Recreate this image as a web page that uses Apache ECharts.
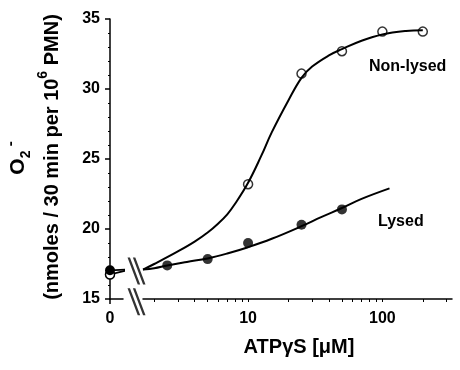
<!DOCTYPE html>
<html>
<head>
<meta charset="utf-8">
<script src="https://cdn.jsdelivr.net/npm/echarts@6/dist/echarts.min.js"></script>
<style>
  html, body { margin: 0; padding: 0; background: #fff; }
  #chart { width: 460px; height: 370px; }
</style>
</head>
<body>
<div id="chart"></div>
<script>
// values
const zeroLysed = 17.05;
const zeroNonLysed = 16.75;

const lysedX = [2.5, 5, 10, 25, 50];
const lysedY = [17.4, 17.85, 19.0, 20.3, 21.4];
const nonLysedX = [10, 25, 50, 100, 200];
const nonLysedY = [23.2, 31.1, 32.7, 34.1, 34.1];

// fitted curves as traced on the figure
const lysedCurveX = [1.65, 2, 2.5, 3.5, 5, 7, 10, 15, 25, 35, 50, 70, 113];
const lysedCurveY = [17.1, 17.2, 17.4, 17.65, 17.9, 18.25, 18.7, 19.3, 20.2, 20.85, 21.5, 22.15, 22.9];
const nonLysedCurveX = [1.65, 2, 3, 4, 5, 6, 7, 8, 10, 12.5, 15, 20, 25, 30, 40, 50, 70, 100, 150, 200];
const nonLysedCurveY = [17.1, 17.5, 18.4, 19.1, 19.75, 20.4, 21.05, 21.8, 23.3, 25.2, 26.9, 29.2, 30.8, 31.6, 32.4, 32.85, 33.45, 33.9, 34.15, 34.2];

const xTickValues = [2, 3, 4, 5, 6, 7, 8, 9, 10, 20, 30, 40, 50, 60, 70, 80, 90, 100, 200, 300];
const xLabelValues = [10, 100];

const zip = (xs, ys) => xs.map((x, i) => [x, ys[i]]);

const FONT = "Liberation Sans";
const textStyle = { fontFamily: FONT, fontWeight: "bold", color: "#000" };
const axisLine = { show: true, lineStyle: { color: "#000", width: 1.5 } };

const breakPath = "path://M0,0 L2.5,0 L13,27 L10.5,27 Z M5.5,0 L8,0 L18.5,27 L16,27 Z";

const chart = echarts.init(document.getElementById("chart"), null, { renderer: "canvas" });

const option = {
  animation: false,
  backgroundColor: "#fff",
  grid: [
    { left: 110, top: 19, width: 13, height: 280 },
    { left: 143, top: 19, width: 309, height: 280 },
  ],
  xAxis: [
    {
      type: "value",
      gridIndex: 0,
      min: 0,
      max: 1,
      axisLine: axisLine,
      splitLine: { show: false },
      axisTick: { show: true, length: 5, customValues: [0], lineStyle: { color: "#000", width: 1.5 } },
      axisLabel: { ...textStyle, fontSize: 16, margin: 12, customValues: [0] },
    },
    {
      type: "log",
      gridIndex: 1,
      min: 1.65,
      max: 330,
      axisLine: axisLine,
      splitLine: { show: false },
      axisTick: { show: true, length: 3, customValues: xTickValues, lineStyle: { color: "#000", width: 1 } },
      axisLabel: { ...textStyle, fontSize: 16, margin: 12, customValues: xLabelValues },
    },
  ],
  yAxis: [
    {
      type: "value",
      gridIndex: 0,
      min: 15,
      max: 35,
      interval: 5,
      axisLine: axisLine,
      splitLine: { show: false },
      axisTick: { show: true, length: 5, lineStyle: { color: "#000", width: 1.5 } },
      minorTick: { show: true, splitNumber: 5, length: 2, lineStyle: { color: "#000", width: 1 } },
      axisLabel: { ...textStyle, fontSize: 16, margin: 10 },
    },
    {
      type: "value",
      gridIndex: 1,
      min: 15,
      max: 35,
      show: false,
    },
  ],
  series: [
    {
      name: "Non-lysed 0",
      type: "line",
      xAxisIndex: 0,
      yAxisIndex: 0,
      clip: false,
      lineStyle: { color: "#000", width: 1.8 },
      data: [
        { value: [0, zeroNonLysed], symbol: "circle", symbolSize: 9, itemStyle: { color: "#fff", borderColor: "#000", borderWidth: 1.5 } },
        { value: [1.3, 17.05], symbol: "none" },
      ],
    },
    {
      name: "Lysed 0",
      type: "line",
      xAxisIndex: 0,
      yAxisIndex: 0,
      clip: false,
      lineStyle: { color: "#000", width: 1.8 },
      data: [
        { value: [0, zeroLysed], symbol: "circle", symbolSize: 10, itemStyle: { color: "#000" } },
        { value: [1.3, 17.1], symbol: "none" },
      ],
    },
    {
      name: "breaks",
      type: "scatter",
      xAxisIndex: 0,
      yAxisIndex: 0,
      clip: false,
      symbol: breakPath,
      symbolSize: [18, 27],
      itemStyle: { color: "#000" },
      data: [[2.04, 17.0], [2.04, 14.8]],
    },
    {
      name: "Non-lysed fit",
      type: "line",
      xAxisIndex: 1,
      yAxisIndex: 1,
      smooth: 0.4,
      showSymbol: false,
      lineStyle: { color: "#000", width: 2 },
      data: zip(nonLysedCurveX, nonLysedCurveY),
    },
    {
      name: "Lysed fit",
      type: "line",
      xAxisIndex: 1,
      yAxisIndex: 1,
      smooth: 0.4,
      showSymbol: false,
      lineStyle: { color: "#000", width: 2 },
      data: zip(lysedCurveX, lysedCurveY),
    },
    {
      name: "Non-lysed",
      type: "scatter",
      xAxisIndex: 1,
      yAxisIndex: 1,
      symbol: "circle",
      symbolSize: 9,
      itemStyle: { color: "#fff", borderColor: "#000", borderWidth: 1.5 },
      data: zip(nonLysedX, nonLysedY),
    },
    {
      name: "Lysed",
      type: "scatter",
      xAxisIndex: 1,
      yAxisIndex: 1,
      symbol: "circle",
      symbolSize: 10,
      itemStyle: { color: "#000" },
      data: zip(lysedX, lysedY),
    },
  ],
  graphic: [
    {
      type: "text",
      x: 18,
      y: 158,
      rotation: Math.PI / 2,
      style: {
        text: "{o|O}{sub|2}{sup| -}",
        align: "center",
        verticalAlign: "middle",
        rich: {
          o: { fontFamily: FONT, fontWeight: "bold", fontSize: 21, lineHeight: 30, verticalAlign: "middle" },
          sub: { fontFamily: FONT, fontWeight: "bold", fontSize: 14, lineHeight: 14, verticalAlign: "bottom" },
          sup: { fontFamily: FONT, fontWeight: "bold", fontSize: 15, lineHeight: 15, verticalAlign: "top" },
        },
        fill: "#000",
      },
    },
    {
      type: "text",
      x: 49,
      y: 157,
      rotation: Math.PI / 2,
      style: {
        text: "{t|(nmoles / 30 min per 10}{sup|6}{t| PMN)}",
        align: "center",
        verticalAlign: "middle",
        rich: {
          t: { fontFamily: FONT, fontWeight: "bold", fontSize: 20, lineHeight: 26, verticalAlign: "bottom" },
          sup: { fontFamily: FONT, fontWeight: "bold", fontSize: 14, lineHeight: 14, verticalAlign: "top" },
        },
        fill: "#000",
      },
    },
    {
      type: "text",
      x: 299,
      y: 347,
      style: {
        text: "ATPγS [μM]",
        fontFamily: FONT,
        fontWeight: "bold",
        fontSize: 20,
        align: "center",
        verticalAlign: "middle",
        fill: "#000",
      },
    },
    {
      type: "text",
      x: 369,
      y: 67,
      style: { text: "Non-lysed", fontFamily: FONT, fontWeight: "bold", fontSize: 16, verticalAlign: "middle", fill: "#000" },
    },
    {
      type: "text",
      x: 378,
      y: 222,
      style: { text: "Lysed", fontFamily: FONT, fontWeight: "bold", fontSize: 16, verticalAlign: "middle", fill: "#000" },
    },
  ],
};

chart.setOption(option);
</script>
</body>
</html>
